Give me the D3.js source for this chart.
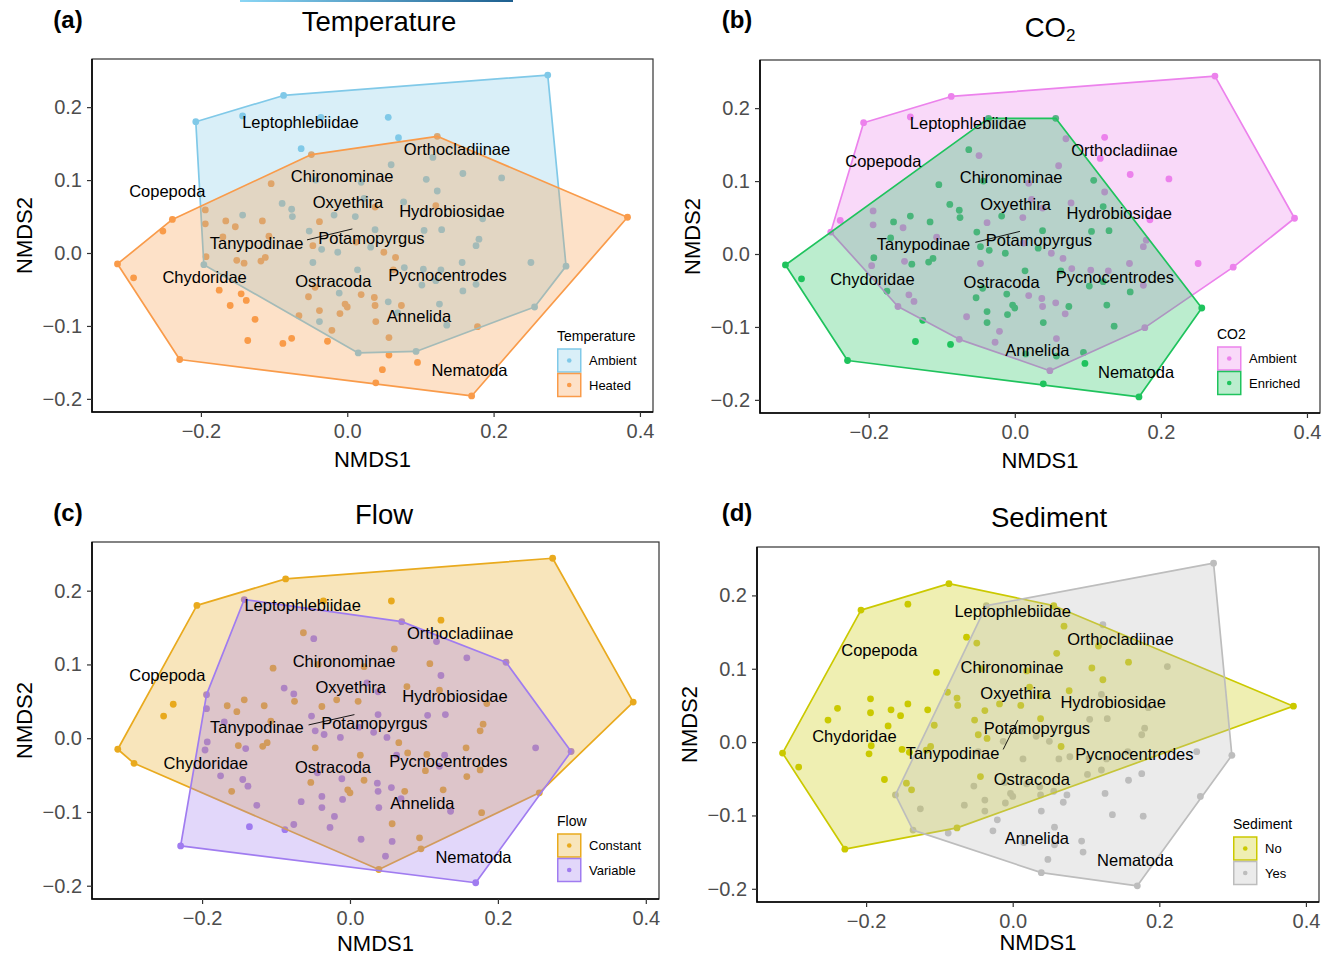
<!DOCTYPE html>
<html>
<head>
<meta charset="utf-8">
<title>NMDS of invertebrate communities by treatment</title>
<script src="https://d3js.org/d3.v7.min.js"></script>
<style>
  body { margin: 0; background: #fff; }
  text { font-family: "Liberation Sans", Arial, sans-serif; }
</style>
</head>
<body>
<svg id="chart" width="1336" height="955"></svg>
<script>
// site scores on the two NMDS axes (same ordination in every panel)
const nmds1 = [
  -0.207,-0.087,-0.143,-0.036,-0.063,-0.104,-0.043, 0.019,-0.089,-0.076,
  -0.075,-0.143,-0.194,-0.166,-0.116,-0.194,-0.153,-0.038,-0.018, 0.011,
   0.023, 0.038,-0.052,-0.107,-0.170,-0.047,-0.035,-0.013, 0.038, 0.032,
   0.012,-0.193,-0.196,-0.151,-0.141,-0.118,-0.112,-0.047, 0.014,-0.292,
  -0.252,-0.239,-0.314,-0.175,-0.145,-0.138,-0.160,-0.126,-0.136,-0.088,
  -0.076,-0.027,-0.229,-0.044,-0.053,-0.011, 0.019,-0.038,-0.010,-0.003,
   0.000,-0.066,-0.038,-0.021, 0.015, 0.039, 0.039, 0.038, 0.037,-0.049,
   0.274, 0.056, 0.070, 0.123, 0.117, 0.060, 0.108, 0.158, 0.211, 0.123,
   0.077, 0.121, 0.185, 0.383, 0.105, 0.129, 0.180, 0.176, 0.050, 0.066,
   0.251, 0.299, 0.078, 0.104, 0.128, 0.157, 0.063, 0.102, 0.121, 0.176,
   0.158, 0.256, 0.056, 0.074, 0.126, 0.069, 0.136, 0.178, 0.057, 0.094,
   0.057, 0.096, 0.048, 0.170
];
const nmds2 = [
   0.180, 0.216, 0.188, 0.186, 0.143, 0.095, 0.100, 0.097, 0.068, 0.060,
   0.050, 0.052, 0.059, 0.044, 0.044, 0.040, 0.036, 0.043, 0.052, 0.050,
   0.075, 0.063, 0.030, 0.023, 0.022, 0.010, 0.005, 0.001, 0.032, 0.008,
   0.015,-0.005,-0.016,-0.010,-0.014,-0.011,-0.006,-0.013,-0.023,-0.034,
   0.030, 0.046,-0.015,-0.051,-0.056,-0.065,-0.072,-0.091,-0.120,-0.124,
  -0.117,-0.121,-0.146,-0.047,-0.060,-0.055,-0.057,-0.079,-0.083,-0.070,
  -0.074,-0.086,-0.094,-0.106,-0.137,-0.178,-0.094,-0.072,-0.061, 0.135,
   0.244, 0.186, 0.158, 0.160, 0.131, 0.121, 0.101, 0.109, 0.103, 0.085,
   0.070, 0.065, 0.047, 0.049, 0.031, 0.032, 0.019, 0.010, 0.001,-0.006,
  -0.013,-0.018,-0.020,-0.022,-0.023,-0.013,-0.023,-0.044,-0.038,-0.043,
  -0.052,-0.074,-0.067,-0.072,-0.070,-0.082,-0.099,-0.101,-0.116,-0.135,
  -0.140,-0.150,-0.160,-0.196
];

// treatment of each site, one letter per site, same order as the scores
const temperature = ("AAAAAHAAAA" + "AAHHHHHHAA" + "AHAHHHAAAA" + "HHAHHHHAAH" + "HHHHHHHHHH" +
  "HHHHHAHHHH" + "HHAHAHHHHH" + "AAAHAAAAAA" + "AHAHAAAAHH" + "AAAAAAHAAA" + "AAAHAAAHHA" + "HHHH").split("");
const co2 = ("AAAEEEEAEE" + "EEAEEAAAEA" + "AAEAEEEEEE" + "AEAAEEEAEE" + "AAEEAAAEEE" +
  "AAEEEEAEEE" + "EAEAEEEAAA" + "AEAAAAEAAA" + "AEAAEEAAAA" + "AAAAAAEEEA" + "EEAEEAEAAE" + "EEAE").split("");
const flow = ("CCVCCCCCVV" + "CCVCCVCCCC" + "VVVCVVVVVV" + "VVVCVCCCCC" + "CCCVVVCVVV" +
  "VVVVCVCVVC" + "CVVVVCVVVV" + "CCVCVCCVVV" + "CCCCVVCCVC" + "VVCCVCVCVC" + "CCVCCVVCCC" + "VCVV").split("");
const sediment = ("NNNYNNNNNN" + "NNNNNNNNNN" + "NNNNNNNYNY" + "YNNNNNNYYN" + "NNNNNNYYYY" +
  "NYNNYYYYYY" + "YYYYYYYYYN" + "YNNYNNNNYN" + "NYYNYYYYYN" + "YYYYYYYYYY" + "YYYYYYYYYY" + "YYYY").split("");

// species labels and where they sit in each panel (NMDS units)
const species = ["Leptophlebiidae", "Orthocladiinae", "Copepoda", "Chironominae", "Oxyethira",
  "Hydrobiosidae", "Tanypodinae", "Potamopyrgus", "Chydoridae", "Ostracoda",
  "Pycnocentrodes", "Annelida", "Nematoda"];
const labelsA1 = [-0.064, 0.150, -0.246, -0.007, 0.001, 0.143, -0.124, 0.033, -0.195, -0.019, 0.137, 0.098, 0.167];
const labelsA2 = [ 0.180, 0.143,  0.085,  0.106, 0.070, 0.057,  0.014, 0.020, -0.033, -0.038, -0.030, -0.087, -0.160];
const labelsB1 = [-0.064, 0.150, -0.180, -0.005, 0.001, 0.143, -0.125, 0.033, -0.195, -0.018, 0.137, 0.031, 0.166];
const labelsB2 = [ 0.180, 0.143,  0.127,  0.106, 0.068, 0.056,  0.014, 0.019, -0.034, -0.039, -0.031, -0.132, -0.162];
const labelsC1 = [-0.064, 0.149, -0.247, -0.008, 0.001, 0.142, -0.126, 0.033, -0.195, -0.023, 0.133, 0.098, 0.167];
const labelsC2 = [ 0.180, 0.143,  0.085,  0.105, 0.069, 0.057,  0.015, 0.020, -0.034, -0.039, -0.031, -0.088, -0.161];
const labelsD1 = [ 0.000, 0.147, -0.182, -0.001, 0.004, 0.137, -0.082, 0.033, -0.216,  0.026, 0.166, 0.033, 0.167];
const labelsD2 = [ 0.178, 0.141,  0.125,  0.102, 0.067, 0.054, -0.015, 0.019,  0.008, -0.050, -0.016, -0.131, -0.161];
// repel segment from a label to its species point
const segA = [[-0.055, 0.018], [0.007, 0.033]];
const segB = [[-0.054, 0.016], [0.007, 0.031]];
const segC = [[-0.056, 0.018], [0.006, 0.032]];
const segD = [[-0.013, -0.010], [0.007, 0.030]];

const xTicks = [-0.2, 0.0, 0.2, 0.4];
const yTicks = [-0.2, -0.1, 0.0, 0.1, 0.2];

if ([nmds2, temperature, co2, flow, sediment].some(a => a.length !== nmds1.length)) {
  throw new Error("site arrays differ in length");
}

const panels = [
  { letter: "(a)", title: "Temperature", name: "Temperature", codes: temperature,
    levels: [["A", "Ambient", "#80c9e8"], ["H", "Heated", "#f99b4a"]],
    box: { l: 92, t: 59, r: 653, b: 412 }, titleX: 379, titleY: 31, letterX: 68, letterY: 28,
    xTitleY: 467, legend: [557, 341], lx: labelsA1, ly: labelsA2, seg: segA },
  { letter: "(b)", title: "CO", sub: "2", name: "CO2", codes: co2,
    levels: [["A", "Ambient", "#ec82ec"], ["E", "Enriched", "#1fc35d"]],
    box: { l: 760, t: 60, r: 1320, b: 413 }, titleX: 1050, titleY: 37, letterX: 737, letterY: 28,
    xTitleY: 468, legend: [1217, 339], lx: labelsB1, ly: labelsB2, seg: segB },
  { letter: "(c)", title: "Flow", name: "Flow", codes: flow,
    levels: [["C", "Constant", "#e9aa1e"], ["V", "Variable", "#a07cf0"]],
    box: { l: 92, t: 542, r: 659, b: 899 }, titleX: 384, titleY: 523.5, letterX: 68, letterY: 521,
    xTitleY: 951, legend: [557, 826], lx: labelsC1, ly: labelsC2, seg: segC },
  { letter: "(d)", title: "Sediment", name: "Sediment", codes: sediment,
    levels: [["N", "No", "#cbc900"], ["Y", "Yes", "#bdbdbd"]],
    box: { l: 757, t: 547, r: 1319, b: 902 }, titleX: 1049, titleY: 526.5, letterX: 737, letterY: 521,
    xTitleY: 950, legend: [1233, 829], lx: labelsD1, ly: labelsD2, seg: segD }
];

const svg = d3.select("#chart");

// thin coloured strip cut off at the top of the figure
const grad = svg.append("defs").append("linearGradient").attr("id", "strip");
grad.append("stop").attr("offset", "0%").attr("stop-color", "#8ad6f5");
grad.append("stop").attr("offset", "100%").attr("stop-color", "#1d5f8f");
svg.append("rect").attr("x", 240).attr("y", 0).attr("width", 273).attr("height", 2).attr("fill", "url(#strip)");

const xExt = d3.extent(nmds1), yExt = d3.extent(nmds2);
const xPad = (xExt[1] - xExt[0]) * 0.05, yPad = (yExt[1] - yExt[0]) * 0.05;

panels.forEach(p => {
  const { l, t, r, b } = p.box;
  const x = d3.scaleLinear().domain([xExt[0] - xPad, xExt[1] + xPad]).range([l, r]);
  const y = d3.scaleLinear().domain([yExt[0] - yPad, yExt[1] + yPad]).range([b, t]);
  const color = Object.fromEntries(p.levels.map(d => [d[0], d[2]]));
  const g = svg.append("g");

  const sites = nmds1.map((v, i) => ({ x: v, y: nmds2[i], grp: p.codes[i] }));

  // points first, hulls with translucent fill on top (as in the original)
  g.selectAll("circle.site").data(sites).join("circle")
    .attr("class", "site")
    .attr("cx", d => x(d.x)).attr("cy", d => y(d.y)).attr("r", 3.4)
    .attr("fill", d => color[d.grp]);

  p.levels.forEach(([k, , c]) => {
    const hull = d3.polygonHull(sites.filter(s => s.grp === k).map(s => [x(s.x), y(s.y)]));
    g.append("path")
      .attr("d", "M" + hull.join("L") + "Z")
      .attr("fill", c).attr("fill-opacity", 0.3)
      .attr("stroke", c).attr("stroke-width", 1.7).attr("stroke-linejoin", "round");
  });

  // species names
  g.append("line")
    .attr("x1", x(p.seg[0][0])).attr("y1", y(p.seg[0][1]))
    .attr("x2", x(p.seg[1][0])).attr("y2", y(p.seg[1][1]))
    .attr("stroke", "#000").attr("stroke-width", 0.9);
  g.selectAll("text.sp").data(species).join("text")
    .attr("class", "sp")
    .attr("x", (d, i) => x(p.lx[i])).attr("y", (d, i) => y(p.ly[i]))
    .attr("dy", "0.36em").attr("text-anchor", "middle")
    .attr("font-size", 16.5).attr("fill", "#000")
    .text(d => d);

  // frame and axes
  g.append("rect").attr("x", l).attr("y", t).attr("width", r - l).attr("height", b - t)
    .attr("fill", "none").attr("stroke", "#333").attr("stroke-width", 1.2);
  g.append("path").attr("d", `M${l},${t}V${b}H${r}`).attr("fill", "none")
    .attr("stroke", "#000").attr("stroke-width", 1.6);

  const fmt = d3.format(".1f");
  const xa = g.append("g").attr("transform", `translate(0,${b})`)
    .call(d3.axisBottom(x).tickValues(xTicks).tickSize(5).tickPadding(7).tickFormat(fmt));
  const ya = g.append("g").attr("transform", `translate(${l},0)`)
    .call(d3.axisLeft(y).tickValues(yTicks).tickSize(5).tickPadding(5).tickFormat(fmt));
  [xa, ya].forEach(a => {
    a.select(".domain").remove();
    a.selectAll(".tick line").attr("stroke", "#333").attr("stroke-width", 1.2);
    a.selectAll(".tick text").attr("fill", "#4d4d4d").attr("font-size", 20)
      .attr("font-family", "'Liberation Sans', Arial, sans-serif");
  });

  g.append("text").attr("x", (l + r) / 2).attr("y", p.xTitleY).attr("text-anchor", "middle")
    .attr("font-size", 22).text("NMDS1");
  g.append("text").attr("transform", `translate(${l - 60},${(t + b) / 2}) rotate(-90)`)
    .attr("text-anchor", "middle").attr("font-size", 22).text("NMDS2");

  // legend inside the panel
  const lg = g.append("g").attr("transform", `translate(${p.legend[0]},${p.legend[1]})`);
  lg.append("text").attr("font-size", 14).text(p.name);
  p.levels.forEach(([k, lab, c], i) => {
    const ky = 8 + i * 24.5;
    lg.append("rect").attr("x", 0.75).attr("y", ky).attr("width", 23).attr("height", 23)
      .attr("fill", c).attr("fill-opacity", 0.3).attr("stroke", c).attr("stroke-width", 1.5);
    lg.append("circle").attr("cx", 12.25).attr("cy", ky + 11.5).attr("r", 2.3).attr("fill", c);
    lg.append("text").attr("x", 32).attr("y", ky + 11.5).attr("dy", "0.36em")
      .attr("font-size", 13).text(lab);
  });

  // panel letter and title
  svg.append("text").attr("x", p.letterX).attr("y", p.letterY).attr("text-anchor", "middle")
    .attr("font-family", "'Open Sans', Lato, sans-serif").attr("font-weight", 700)
    .attr("font-size", 24).text(p.letter);
  const tt = svg.append("text").attr("x", p.titleX).attr("y", p.titleY).attr("text-anchor", "middle")
    .attr("font-family", "'Open Sans', Lato, sans-serif").attr("font-size", 27.5).text(p.title);
  if (p.sub) tt.append("tspan").attr("font-size", 17).attr("dy", 4).text(p.sub);
});
</script>
</body>
</html>
